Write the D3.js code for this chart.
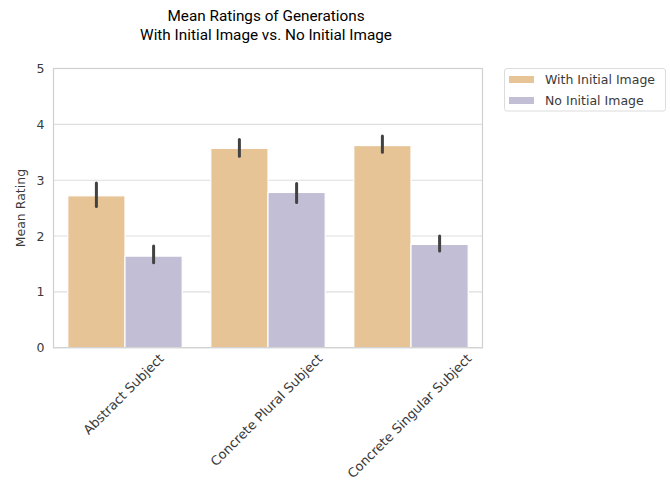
<!DOCTYPE html>
<html>
<head>
<meta charset="utf-8">
<script src="https://cdn.jsdelivr.net/npm/d3@7"></script>
<style>
  html, body { margin: 0; padding: 0; background: #fff; }
  svg { display: block; }
</style>
</head>
<body>
<svg id="chart" width="670" height="481"></svg>
<script>
// Subject types on the x axis
const categories = ["Abstract Subject", "Concrete Plural Subject", "Concrete Singular Subject"];
// Conditions drawn as grouped bars
const seriesNames = ["With Initial Image", "No Initial Image"];
// Mean ratings per condition, in category order
const withImageMeans = [2.72, 3.57, 3.62];
const noImageMeans = [1.64, 2.78, 1.85];
// 95% confidence interval bounds for each mean
const withImageLow = [2.53, 3.43, 3.50];
const withImageHigh = [2.95, 3.73, 3.79];
const noImageLow = [1.52, 2.60, 1.73];
const noImageHigh = [1.82, 2.94, 2.00];
// Y axis ticks
const yTicks = [0, 1, 2, 3, 4, 5];

const colors = ["#e7c496", "#c1bed6"];

const svg = d3.select("#chart");
const margin = { left: 53.5, right: 482.5, top: 68.5, bottom: 347.7 };

const x0 = d3.scaleBand().domain(categories).range([margin.left, margin.right]).paddingInner(0).paddingOuter(0);
const groupW = x0.bandwidth() * 0.8;
const x1 = d3.scaleBand().domain(seriesNames).range([0, groupW]);
const y = d3.scaleLinear().domain([0, 5]).range([margin.bottom, margin.top]);

const rows = [];
categories.forEach((c, i) => {
  rows.push({ cat: c, s: seriesNames[0], v: withImageMeans[i], lo: withImageLow[i], hi: withImageHigh[i], color: colors[0] });
  rows.push({ cat: c, s: seriesNames[1], v: noImageMeans[i], lo: noImageLow[i], hi: noImageHigh[i], color: colors[1] });
});

// Horizontal grid lines
svg.append("g")
  .selectAll("line")
  .data(yTicks)
  .join("line")
  .attr("x1", margin.left).attr("x2", margin.right)
  .attr("y1", d => y(d)).attr("y2", d => y(d))
  .attr("stroke", "#dedede").attr("stroke-width", 1.1);

// Bars
const bx = d => x0(d.cat) + (x0.bandwidth() - groupW) / 2 + x1(d.s);
svg.append("g")
  .selectAll("rect")
  .data(rows)
  .join("rect")
  .attr("x", bx)
  .attr("width", x1.bandwidth())
  .attr("y", d => y(d.v))
  .attr("height", d => y(0) - y(d.v))
  .attr("fill", d => d.color)
  .attr("stroke", "#fff")
  .attr("stroke-width", 1.2);

// Error bars
svg.append("g")
  .selectAll("line")
  .data(rows)
  .join("line")
  .attr("x1", d => bx(d) + x1.bandwidth() / 2)
  .attr("x2", d => bx(d) + x1.bandwidth() / 2)
  .attr("y1", d => y(d.lo))
  .attr("y2", d => y(d.hi))
  .attr("stroke", "#424242")
  .attr("stroke-width", 3)
  .attr("stroke-linecap", "round");

// Frame
svg.append("rect")
  .attr("x", margin.left).attr("y", margin.top)
  .attr("width", margin.right - margin.left).attr("height", margin.bottom - margin.top)
  .attr("fill", "none").attr("stroke", "#d0d0d0").attr("stroke-width", 1.2);

// Y tick labels
svg.append("g")
  .selectAll("text")
  .data(yTicks)
  .join("text")
  .attr("x", margin.left - 9)
  .attr("y", d => y(d))
  .attr("dy", "0.36em")
  .attr("text-anchor", "end")
  .attr("font-family", "DejaVu Sans")
  .attr("font-size", 12.5)
  .attr("fill", "#3a3a3a")
  .text(d => d3.format("d")(d));

// Y axis title
svg.append("text")
  .attr("transform", `translate(21,${(margin.top + margin.bottom) / 2}) rotate(-90)`)
  .attr("text-anchor", "middle")
  .attr("dy", "0.35em")
  .attr("font-family", "DejaVu Sans")
  .attr("font-size", 12.5)
  .attr("fill", "#3a3a3a")
  .text("Mean Rating");

// X tick labels, rotated 45 degrees and centred under each group
const xl = svg.append("g");
categories.forEach(c => {
  const cx = x0(c) + x0.bandwidth() / 2;
  const t = xl.append("text")
    .attr("text-anchor", "middle")
    .attr("dominant-baseline", "central")
    .attr("font-family", "DejaVu Sans")
    .attr("font-size", 13)
    .attr("fill", "#3a3a3a")
    .text(c);
  const w = t.node().getComputedTextLength();
  const h = 12;
  const cy = 352 + (w + h) / (2 * Math.SQRT2);
  t.attr("transform", `translate(${cx - 1.5},${cy}) rotate(-45)`);
});

// Title
const title = svg.append("text")
  .attr("x", 266)
  .attr("text-anchor", "middle")
  .attr("font-family", "Roboto")
  .attr("font-size", 15.3)
  .attr("fill", "#000");
title.append("tspan").attr("x", 266).attr("y", 21).text("Mean Ratings of Generations");
title.append("tspan").attr("x", 266).attr("y", 39.5).text("With Initial Image vs. No Initial Image");

// Legend
const lg = svg.append("g");
lg.append("rect")
  .attr("x", 504.5).attr("y", 68.5).attr("width", 161).attr("height", 42.5)
  .attr("rx", 2.5)
  .attr("fill", "#fff").attr("stroke", "#dcdcdc").attr("stroke-width", 1);
seriesNames.forEach((s, i) => {
  const yy = 79.5 + i * 21;
  lg.append("rect")
    .attr("x", 509).attr("y", yy - 3.5).attr("width", 25).attr("height", 7)
    .attr("fill", colors[i]);
  lg.append("text")
    .attr("x", 545).attr("y", yy).attr("dy", "0.36em")
    .attr("font-family", "DejaVu Sans").attr("font-size", 12.5)
    .attr("fill", "#3a3a3a")
    .text(s);
});
</script>
</body>
</html>
